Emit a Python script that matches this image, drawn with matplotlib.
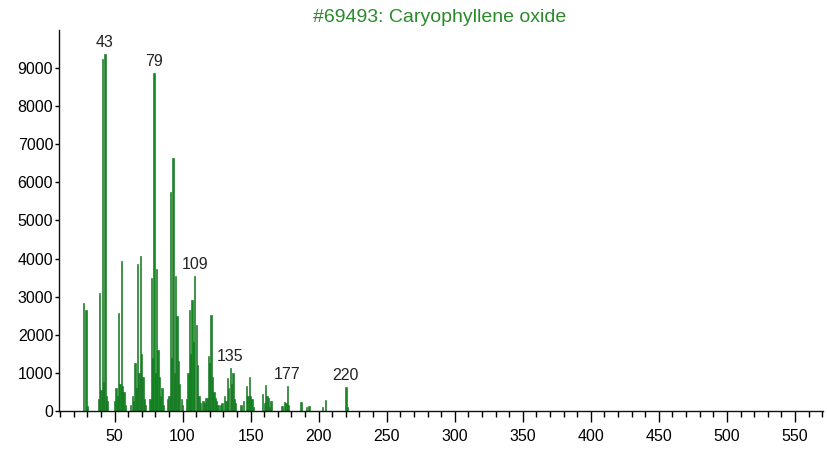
import matplotlib
matplotlib.use('Agg')
import matplotlib.pyplot as plt
from matplotlib.ticker import MultipleLocator

plt.rcParams['font.family'] = ['Liberation Sans', 'DejaVu Sans']

# Mass spectrum of caryophyllene oxide (m/z vs. abundance)
mz = [27, 29, 30,
      38, 39, 40, 41, 42, 43, 44, 45,
      50, 51, 52, 53, 54, 55, 56, 57, 58,
      62, 63, 64, 65, 66, 67, 68, 69, 70, 71, 72, 73,
      76, 77, 78, 79, 80, 81, 82, 83, 84, 85, 86,
      89, 90, 91, 92, 93, 94, 95, 96, 97, 98, 99, 100,
      103, 104, 105, 106, 107, 108, 109, 110, 111, 112, 113,
      115, 116, 117, 118, 119, 120, 121, 122, 123, 124, 125, 126,
      128, 129, 131, 132, 133, 134, 135, 136, 137, 138, 139,
      143, 145, 147, 148, 149, 150, 151, 152,
      159, 160, 161, 162, 163, 164, 165,
      173, 175, 176, 177, 178,
      187, 191, 193,
      203, 205,
      220, 221]
abundance = [2830, 2650, 140,
             300, 3100, 550, 9250, 750, 9360, 400, 250,
             250, 600, 400, 2570, 700, 3930, 650, 500, 150,
             150, 400, 250, 1260, 600, 3850, 1000, 4070, 1500, 900, 300, 150,
             300, 3500, 1400, 8860, 1000, 3720, 1600, 900, 400, 600, 150,
             300, 400, 5750, 1400, 6640, 1000, 3550, 2500, 1300, 700, 300, 150,
             300, 1000, 2650, 1500, 2900, 1800, 3550, 2250, 1200, 400, 200,
             250, 200, 350, 350, 1430, 1250, 2520, 900, 500, 350, 250, 150,
             150, 200, 400, 250, 850, 600, 1130, 700, 1000, 300, 200,
             150, 250, 650, 400, 900, 400, 300, 100,
             450, 200, 680, 380, 330, 100, 250,
             120, 230, 200, 650, 150,
             230, 110, 120,
             100, 290,
             630, 100]

labeled = [43, 79, 109, 135, 177, 220]
title = '#69493: Caryophyllene oxide'

fig = plt.figure(figsize=(8.27, 4.49), dpi=100)
ax = fig.add_axes([0.071, 0.085, 0.924, 0.848])

ax.bar(mz, abundance, width=0.95, color='#138a22', edgecolor='#0e6e1a', linewidth=0.4)

for m in labeled:
    v = abundance[mz.index(m)]
    ax.annotate(str(m), (m, v), xytext=(0, 3), textcoords='offset points',
                ha='center', va='bottom', fontsize=11.5, color='#222222')

ax.set_xlim(9, 570.5)
ax.set_ylim(0, 10000)
ax.xaxis.set_minor_locator(MultipleLocator(10))
ax.set_xticks(range(50, 551, 50))
ax.set_yticks(range(0, 9001, 1000))

for s in ['top', 'right']:
    ax.spines[s].set_visible(False)
for s in ['left', 'bottom']:
    ax.spines[s].set_linewidth(1.0)
    ax.spines[s].set_color('#111111')

ax.tick_params(axis='x', which='major', direction='out', length=8, width=1, pad=5, labelsize=11.5)
ax.tick_params(axis='x', which='minor', direction='out', length=4, width=1)
ax.tick_params(axis='y', which='major', direction='out', length=3, width=1, pad=1, labelsize=11.5)

fig.text(0.532, 0.962, title, ha='center', va='center', fontsize=14, color='#2a8a2a')

fig.savefig('out.png', dpi=100)
